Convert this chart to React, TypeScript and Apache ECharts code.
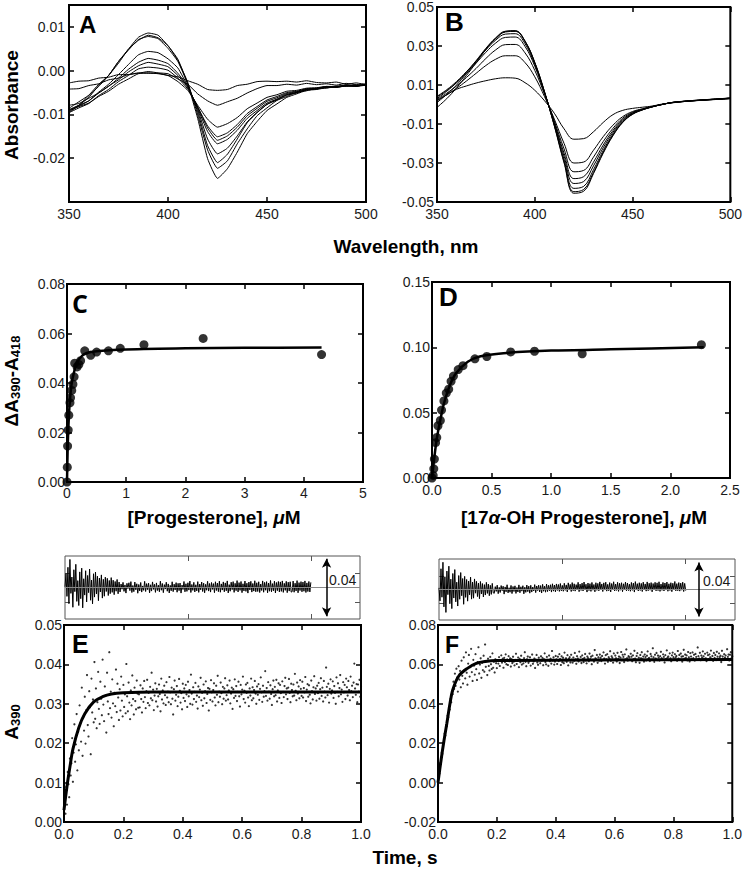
import React, { useEffect, useRef } from "react";
import * as echarts from "echarts";

// ---------- DATA ----------
const WAVELENGTHS = [350, 355, 360, 365, 370, 375, 380, 385, 390, 395, 400, 405, 410, 415, 420, 425, 430, 435, 440, 445, 450, 455, 460, 465, 470, 475, 480, 485, 490, 495, 500];

// Panel A difference spectra, milli-absorbance units
const SPEC_A1 = [-2.8, -2.4, -2.3, -1.7, -1.5, -0.9, -0.9, -0.5, -0.6, -0.6, -1.1, -1.4, -2.3, -3.1, -4.3, -4.5, -4.3, -3.4, -3.1, -2.5, -2.4, -2.5, -2.4, -2.6, -2.3, -2.7, -2.8, -2.6, -3.1, -2.8, -3.2];
const SPEC_A2 = [-4.2, -4.1, -3.4, -3.0, -2.1, -1.7, -0.9, -0.6, -0.2, -0.5, -0.7, -1.9, -3.1, -5.3, -6.9, -7.9, -7.1, -6.3, -5.1, -4.1, -3.4, -3.4, -3.1, -3.3, -2.9, -3.2, -3.0, -3.3, -2.9, -3.2, -3.0];
const SPEC_A3 = [-9.1, -8.2, -7.4, -5.9, -4.7, -3.1, -1.9, -0.7, -0.5, -0.7, -1.1, -2.5, -4.5, -7.9, -11.1, -12.9, -12.1, -10.7, -8.7, -7.4, -6.1, -5.5, -4.7, -4.5, -4.0, -3.9, -3.6, -3.6, -3.3, -3.5, -3.2];
const SPEC_A4 = [-9.6, -8.5, -7.5, -5.7, -4.3, -2.5, -1.1, 0.4, 0.8, 0.6, 0.1, -1.7, -4.2, -8.3, -12.6, -15.1, -14.2, -12.3, -9.8, -8.2, -6.7, -5.9, -5.0, -4.7, -4.1, -4.0, -3.6, -3.7, -3.3, -3.5, -3.2];
const SPEC_A5 = [-7.9, -7.5, -6.3, -5.1, -3.5, -2.1, -0.3, 1.1, 1.9, 1.5, 0.9, -1.1, -3.9, -8.3, -13.1, -15.9, -14.9, -12.9, -10.3, -8.6, -7.0, -6.2, -5.2, -4.8, -4.2, -4.1, -3.7, -3.7, -3.4, -3.5, -3.2];
const SPEC_A6 = [-8.9, -7.9, -6.9, -5.1, -3.6, -1.7, 0.3, 1.9, 2.8, 2.4, 1.6, -0.6, -3.7, -8.6, -13.9, -16.7, -15.7, -13.6, -10.9, -9.1, -7.4, -6.5, -5.4, -5.0, -4.3, -4.2, -3.8, -3.8, -3.5, -3.6, -3.3];
const SPEC_A7 = [-9.3, -8.1, -6.9, -4.9, -3.1, -0.9, 1.4, 3.6, 4.4, 4.1, 2.7, 0.6, -3.6, -8.9, -15.6, -19.0, -17.7, -14.9, -11.7, -9.5, -7.7, -6.7, -5.6, -5.1, -4.4, -4.2, -3.8, -3.8, -3.4, -3.5, -3.2];
const SPEC_A8 = [-8.6, -7.1, -5.6, -3.1, -1.1, 2.1, 4.7, 7.1, 7.8, 7.3, 5.1, 2.1, -3.1, -9.4, -17.1, -21.0, -19.1, -15.6, -11.9, -9.6, -7.7, -6.6, -5.5, -5.0, -4.3, -4.1, -3.7, -3.7, -3.3, -3.4, -3.1];
const SPEC_A9 = [-9.0, -7.9, -5.7, -3.6, -1.1, 1.7, 4.9, 6.9, 8.1, 7.5, 5.7, 2.3, -2.7, -10.1, -18.1, -22.3, -20.6, -16.7, -13.3, -10.3, -8.5, -6.8, -5.9, -4.9, -4.6, -4.0, -4.0, -3.5, -3.6, -3.3, -3.3];
const SPEC_A10 = [-9.6, -7.9, -6.1, -3.4, -1.1, 2.1, 4.9, 7.6, 8.6, 8.1, 5.7, 2.6, -3.1, -10.9, -20.1, -24.6, -22.4, -18.6, -14.4, -11.6, -9.1, -7.6, -6.1, -5.3, -4.5, -4.3, -3.9, -3.8, -3.5, -3.5, -3.2];

// Panel B difference spectra, milli-absorbance units
const SPEC_B1 = [1.9, 5.0, 7.8, 9.5, 11.0, 12.2, 13.2, 13.7, 13.5, 11.2, 7.3, 1.9, -4.5, -12.5, -17.8, -17.5, -14.0, -9.2, -5.2, -3.0, -2.0, -1.4, -0.8, 0.2, 0.8, 1.4, 1.8, 2.2, 2.5, 2.7, 3.0];
const SPEC_B2 = [2.0, 5.0, 8.3, 12.0, 16.0, 20.0, 23.2, 25.0, 25.0, 21.5, 14.2, 4.0, -7.5, -20.0, -30.0, -29.5, -23.5, -16.5, -10.6, -6.2, -3.6, -2.2, -1.0, 0.0, 0.9, 1.4, 1.8, 2.1, 2.4, 2.7, 3.0];
const SPEC_B3 = [2.5, 5.8, 9.5, 13.8, 18.5, 23.6, 28.0, 30.7, 30.8, 26.5, 17.5, 5.2, -8.5, -22.8, -34.5, -33.8, -27.0, -19.0, -12.2, -7.0, -4.0, -2.4, -1.1, 0.0, 0.9, 1.4, 1.8, 2.2, 2.5, 2.8, 3.1];
const SPEC_B4 = [3.8, 7.2, 11.2, 16.0, 21.2, 26.8, 31.5, 34.4, 34.6, 29.8, 19.6, 5.8, -9.3, -25.0, -38.0, -37.0, -29.6, -20.8, -13.3, -7.7, -4.3, -2.5, -1.1, 0.0, 1.0, 1.5, 1.9, 2.2, 2.6, 2.9, 3.3];
const SPEC_B5 = [4.2, 7.6, 11.8, 16.8, 22.2, 28.0, 33.0, 36.1, 36.3, 31.2, 20.5, 6.1, -9.8, -26.6, -40.5, -39.5, -31.5, -22.2, -14.2, -8.2, -4.5, -2.6, -1.2, 0.0, 1.0, 1.5, 2.0, 2.3, 2.6, 2.9, 3.3];
const SPEC_B6 = [1.0, 5.2, 10.0, 15.8, 22.0, 28.5, 33.8, 37.2, 37.5, 32.2, 21.2, 6.2, -10.5, -28.3, -43.0, -42.0, -33.5, -23.6, -15.1, -8.7, -4.8, -2.7, -1.2, 0.0, 1.0, 1.6, 2.0, 2.3, 2.7, 3.0, 3.4];
const SPEC_B7 = [-1.5, 3.0, 8.5, 14.8, 21.4, 28.2, 33.8, 37.4, 37.8, 32.6, 21.6, 6.4, -10.8, -29.4, -44.7, -43.6, -34.8, -24.5, -15.7, -9.0, -5.0, -2.8, -1.3, 0.0, 1.0, 1.5, 1.9, 2.3, 2.6, 2.9, 3.2];
const SPEC_B8 = [3.0, 6.8, 11.2, 16.5, 22.5, 28.8, 34.2, 37.6, 37.8, 32.5, 21.5, 6.5, -11.0, -30.0, -45.5, -44.5, -35.5, -25.0, -16.0, -9.2, -5.0, -2.8, -1.2, 0.0, 1.0, 1.5, 1.9, 2.2, 2.5, 2.8, 3.2];

// Panel C titration
const C_CONC = [0, 0.005, 0.01, 0.02, 0.03, 0.05, 0.06, 0.08, 0.1, 0.12, 0.13, 0.17, 0.2, 0.23, 0.3, 0.4, 0.5, 0.7, 0.9, 1.3, 2.3, 4.3];
const C_DELTA = [0, 0.006, 0.0145, 0.021, 0.027, 0.032, 0.034, 0.037, 0.0395, 0.0425, 0.048, 0.0465, 0.0475, 0.049, 0.053, 0.0512, 0.0525, 0.053, 0.054, 0.0555, 0.058, 0.0515];
const C_FIT_CONC = [0, 0.01, 0.02, 0.04, 0.06, 0.08, 0.1, 0.15, 0.2, 0.3, 0.5, 1, 2, 3, 4.3];
const C_FIT_DELTA = [0, 0.012, 0.02, 0.03, 0.036, 0.04, 0.0425, 0.047, 0.0495, 0.0518, 0.0528, 0.0535, 0.054, 0.0542, 0.0543];

// Panel D titration
const D_CONC = [0, 0.01, 0.015, 0.02, 0.03, 0.04, 0.05, 0.07, 0.08, 0.1, 0.12, 0.14, 0.16, 0.18, 0.22, 0.26, 0.36, 0.46, 0.66, 0.86, 1.26, 2.26];
const D_DELTA = [0, 0.002, 0.007, 0.0145, 0.027, 0.031, 0.04, 0.044, 0.052, 0.059, 0.065, 0.068, 0.074, 0.078, 0.083, 0.086, 0.0912, 0.093, 0.0965, 0.097, 0.095, 0.102];
const D_FIT_CONC = [0, 0.02, 0.04, 0.06, 0.08, 0.1, 0.15, 0.2, 0.3, 0.4, 0.6, 1.0, 1.5, 2.28];
const D_FIT_DELTA = [0, 0.016, 0.03, 0.04, 0.049, 0.057, 0.071, 0.08, 0.089, 0.093, 0.0955, 0.0975, 0.0985, 0.1];

// Panel E stopped-flow trace (A390 in milli-absorbance, one point every 2.5 ms)
const E_DT = 0.0025;
const E_TRACE = [
  3.2, 5.8, 2.1, 8.9, 4.4, 12.7, 9.6, 6.3, 16.1, 11.8, 14.9, 21.3, 10.2, 17.6, 24.8, 15.3, 19.7, 27.4, 13.1, 22.9, 18.2, 29.6, 25.1, 20.4, 34.1, 16.8, 26.7, 23.2, 31.8, 19.9, 28.4, 37.3, 24.6, 21.7, 33.2, 29.1, 17.2, 36.4, 27.8, 31.1, 25.3,
  40.6, 26.2, 33.9, 23.8, 30.4, 38.1, 28.7, 24.9, 35.6, 31.3, 27.1, 41.2, 29.8, 25.6, 34.4, 32.1, 22.7, 37.9, 30.6, 27.4,
  43.1, 28.9, 33.1, 26.5, 36.2, 30.1, 24.3, 32.8, 29.4, 38.7, 27.9, 35.1, 31.6, 25.9, 33.7, 28.3, 36.9, 30.8, 26.8, 34.8,
  29.2, 32.4, 27.6, 40.1, 31.9, 28.1, 35.4, 30.3, 26.1, 33.4, 29.6, 37.2, 31.2, 27.3, 34.1, 30.7, 28.6, 35.9, 32.6, 29.0,
  32.4, 29.1, 34.7, 31.2, 27.8, 33.9, 30.5, 35.8, 31.7, 28.9, 33.2, 36.1, 30.2, 32.8, 29.6, 34.3, 31.4, 37.9, 30.9, 33.6,
  28.4, 32.1, 35.2, 30.6, 33.8, 29.3, 31.9, 34.9, 32.5, 28.1, 36.4, 31.1, 33.4, 30.1, 34.6, 32.2, 29.7, 35.5, 31.6, 33.1,
  30.4, 36.8, 32.9, 29.9, 34.1, 31.3, 27.3, 33.7, 35.9, 30.8, 32.3, 34.5, 29.4, 31.8, 36.3, 33.3, 30.3, 32.7, 28.6, 35.1,
  31.5, 33.9, 30.7, 34.8, 32.4, 29.2, 35.6, 31.9, 33.5, 30.0, 37.4, 32.6, 29.8, 34.2, 31.2, 33.0, 35.3, 30.5, 32.1, 28.8,
  34.4, 31.7, 33.6, 36.6, 30.9, 32.8, 29.5, 34.9, 31.4, 33.2, 35.7, 30.2, 32.5, 34.0, 28.3, 33.8, 31.0, 36.0, 32.9, 30.6,
  33.5, 35.2, 31.6, 29.6, 34.6, 32.3, 37.1, 30.4, 33.1, 31.8, 35.4, 32.7, 29.9, 34.3, 31.3, 33.9, 36.5, 30.8, 32.2, 34.7,
  31.1, 33.4, 35.9, 30.1, 32.6, 34.1, 28.7, 33.7, 31.5, 36.2, 32.0, 34.5, 30.7, 33.0, 35.6, 31.9, 29.3, 34.8, 32.4, 33.6,
  36.9, 31.2, 33.3, 30.3, 34.9, 32.8, 35.3, 31.6, 29.4, 33.9, 32.1, 36.4, 30.9, 34.2, 31.4, 33.5, 35.8, 32.6, 30.0, 34.4,
  32.3, 35.0, 31.0, 33.8, 36.7, 32.9, 30.5, 34.6, 31.8, 33.2, 38.3, 32.0, 34.0, 30.8, 35.5, 33.1, 31.3, 34.7, 32.5, 29.7,
  33.7, 35.9, 31.9, 34.3, 32.2, 36.1, 30.6, 33.4, 35.2, 31.5, 34.8, 32.7, 30.2, 35.7, 33.0, 31.7, 34.5, 36.6, 32.4, 33.9,
  31.2, 34.1, 36.3, 32.8, 30.4, 35.1, 33.5, 31.9, 34.9, 32.1, 37.6, 33.3, 30.9, 35.4, 32.6, 34.4, 31.4, 36.0, 33.8, 32.0,
  35.6, 31.6, 34.0, 32.9, 36.8, 30.7, 33.6, 35.0, 31.8, 34.7, 32.3, 30.1, 35.9, 33.2, 31.1, 34.2, 37.0, 32.5, 33.9, 30.8,
  34.6, 32.7, 35.3, 31.3, 33.7, 36.5, 32.0, 34.1, 30.6, 35.8, 33.1, 31.6, 39.2, 34.3, 32.2, 35.1, 30.3, 33.8, 36.2, 32.6,
  33.4, 35.7, 31.5, 34.5, 32.8, 30.0, 36.7, 33.0, 35.2, 31.9, 34.0, 37.3, 32.4, 33.6, 30.5, 35.5, 32.9, 34.8, 31.2, 36.4,
  34.2, 32.1, 35.8, 33.5, 30.9, 36.9, 33.2, 34.6, 31.7, 35.4, 40.2, 33.9, 32.3, 35.0, 30.4, 34.9, 33.1, 36.1, 31.8, 34.4,
];
const E_FIT_T = [0, 0.01, 0.02, 0.03, 0.05, 0.07, 0.1, 0.13, 0.16, 0.2, 0.3, 1.0];
const E_FIT_A = [0.003, 0.009, 0.014, 0.0185, 0.024, 0.0275, 0.0305, 0.0318, 0.0325, 0.0328, 0.033, 0.033];

// Panel F stopped-flow trace (A390 in milli-absorbance, one point every 2.5 ms)
const F_DT = 0.0025;
const F_TRACE = [
  -1.8, 3.9, 4.6, 9.8, 10.2, 15.1, 14.6, 19.9, 20.3, 24.8, 23.9, 29.1, 28.6, 33.9, 33.2, 38.4, 37.1, 42.5, 40.8, 46.3, 44.9,
  51.2, 47.6, 55.3, 49.1, 57.8, 53.4, 46.2, 59.1, 52.3, 56.7, 48.4, 61.9, 54.2, 50.3, 63.6, 57.2, 52.9, 66.1, 55.8, 49.7,
  60.4, 64.8, 53.8, 58.6, 67.9, 56.1, 51.6, 62.3, 59.4, 54.8, 65.2, 57.6, 52.1, 61.2, 68.7, 55.4, 59.9, 63.1, 53.2, 60.8,
  57.1, 64.4, 56.3, 70.1, 58.8, 61.6, 54.6, 62.9, 59.2, 56.9, 63.8, 60.1, 57.7, 65.6, 58.3, 61.3, 55.9, 62.6, 60.6, 58.1,
  62.1, 60.4, 63.7, 59.2, 61.8, 64.6, 60.9, 62.9, 58.3, 63.3, 61.2, 65.1, 60.1, 62.5, 59.7, 64.2, 61.6, 63.1, 58.9, 62.7,
  60.7, 63.9, 61.4, 59.5, 62.3, 65.4, 60.2, 61.9, 63.5, 58.6, 62.8, 61.1, 64.4, 59.9, 62.0, 60.5, 63.2, 66.2, 61.3, 59.1,
  62.6, 64.0, 60.8, 61.7, 63.6, 59.4, 62.2, 65.0, 60.3, 61.5, 63.0, 58.2, 62.4, 64.8, 61.0, 59.8, 63.4, 62.1, 60.6, 64.1,
  61.9, 63.3, 59.6, 62.7, 65.6, 61.2, 60.0, 63.8, 62.3, 59.3, 64.5, 61.6, 62.9, 60.4, 66.8, 62.0, 63.6, 59.9, 61.4, 64.3,
  62.5, 60.2, 63.9, 61.7, 65.2, 62.8, 59.7, 64.1, 61.1, 63.4, 60.6, 66.0, 62.2, 63.1, 61.3, 64.7, 59.5, 62.9, 63.7, 61.0,
  64.9, 62.4, 60.9, 63.5, 61.8, 65.8, 62.6, 60.3, 64.2, 63.0, 61.5, 66.5, 62.1, 63.8, 60.7, 64.6, 62.8, 61.2, 63.3, 65.3,
  62.0, 60.5, 64.0, 63.2, 61.6, 65.5, 62.7, 63.9, 60.1, 64.4, 62.3, 61.4, 67.3, 63.1, 62.5, 64.8, 60.8, 63.6, 61.9, 65.0,
  63.4, 61.7, 64.3, 62.2, 66.1, 63.0, 60.4, 64.7, 62.6, 65.2, 61.3, 63.7, 62.9, 66.7, 61.8, 64.1, 63.3, 60.9, 65.6, 62.4,
  64.5, 63.1, 61.5, 65.9, 62.8, 64.0, 60.7, 63.5, 66.3, 62.1, 64.9, 63.8, 61.2, 65.1, 62.5, 67.6, 63.2, 61.9, 64.2, 63.6,
  62.3, 65.4, 63.9, 61.6, 64.6, 62.7, 66.9, 63.0, 61.1, 64.3, 65.7, 62.2, 63.4, 60.8, 64.8, 63.1, 66.2, 62.6, 64.0, 61.4,
  65.0, 63.7, 62.0, 64.4, 66.6, 62.9, 63.3, 61.7, 65.3, 64.1, 62.4, 68.2, 63.6, 61.3, 64.9, 63.0, 65.8, 62.1, 64.5, 63.5,
  61.9, 64.2, 66.4, 63.2, 62.5, 65.1, 63.8, 61.0, 64.7, 62.8, 67.1, 63.4, 64.0, 62.2, 65.6, 63.1, 61.6, 64.6, 66.0, 63.7,
  62.6, 65.2, 63.5, 64.3, 61.8, 66.8, 63.0, 64.8, 62.3, 65.5, 63.9, 61.4, 64.1, 67.4, 62.9, 65.0, 63.3, 64.6, 62.0, 66.3,
  63.6, 61.5, 65.7, 64.0, 62.7, 66.1, 63.2, 64.9, 61.9, 65.3, 63.8, 62.4, 68.6, 64.2, 63.0, 65.9, 62.1, 64.5, 63.4, 66.6,
  64.1, 62.8, 65.4, 63.1, 61.7, 66.0, 64.7, 62.5, 65.1, 63.6, 67.0, 62.9, 64.3, 61.8, 65.8, 63.3, 64.8, 62.2, 66.4, 63.9,
  62.6, 65.6, 63.7, 64.4, 61.2, 66.9, 64.0, 62.7, 65.2, 63.5, 64.6, 62.3, 67.7, 63.8, 65.0, 62.0, 64.9, 66.2, 63.1, 64.2,
];
const F_FIT_T = [0, 0.01, 0.02, 0.03, 0.04, 0.05, 0.07, 0.1, 0.13, 0.16, 0.2, 1.0];
const F_FIT_A = [0, 0.011, 0.021, 0.03, 0.0395, 0.047, 0.054, 0.058, 0.0605, 0.0615, 0.062, 0.0625];

// Fit residuals (milli-absorbance, one point every 4 ms)
const RES_DT = 0.004;
const E_RESID = [
  0.5, 9.8, -6.2, 14.1, -11.3, 19.6, -4.1, 7.3, -13.8, 12.4, -2.9, 16.2, -9.7, 4.8, -12.6, 10.9, -7.8, 13.5, -14.2, 6.1,
  -5.3, 11.7, -10.1, 8.4, -3.6, 12.9, -8.9, 5.2, -11.4, 9.6, -6.7, 10.8, -4.5, 7.9, -9.2, 6.6, -3.1, 8.8, -7.4, 5.7,
  -6.1, 7.2, -2.8, 6.4, -5.6, 4.9, -4.3, 6.9, -3.4, 5.1, -5.0, 4.2, -2.6, 5.6, -4.4, 3.8,
  -3.1, 2.4, -1.2, 3.6, -2.7, 1.8, -3.9, 2.9, -0.8, 3.3, -2.2, 4.1, -3.5, 1.4, -2.9, 3.8, -1.6, 2.6, -4.0, 2.1,
  -2.4, 3.5, -3.2, 1.1, -2.0, 4.3, -2.8, 2.7, -1.5, 3.0, -3.7, 1.9, -2.5, 3.9, -1.3, 2.2, -3.4, 3.2, -2.1, 1.6,
  -3.0, 4.4, -1.9, 2.8, -3.6, 2.0, -1.1, 3.7, -2.6, 2.5, -3.8, 1.5, -2.3, 4.0, -2.9, 2.3, -1.7, 3.4, -3.3, 2.9,
  -2.2, 3.1, -3.9, 1.7, -1.4, 4.2, -3.0, 2.6, -2.7, 3.3, -1.8, 4.5, -3.5, 2.1, -2.0, 3.6, -3.1, 1.9, -2.4, 4.1,
  -3.4, 2.4, -1.6, 3.8, -2.8, 3.0, -3.7, 2.2, -1.9, 4.3, -2.5, 2.8, -3.2, 3.5, -1.3, 2.7, -3.6, 4.0, -2.1, 3.1,
  -2.9, 4.4, -3.3, 2.5, -1.8, 3.9, -3.0, 3.2, -2.3, 4.6, -3.8, 2.0, -2.6, 3.7, -1.5, 4.1, -3.4, 2.9, -2.2, 4.8,
  -3.1, 3.4, -2.0, 4.2, -3.6, 2.6, -2.4, 4.5, -2.7, 3.0, -3.9, 3.8, -1.7, 4.3, -3.2, 2.8, -2.5, 4.7, -3.0, 3.3,
  -2.8, 4.0, -3.5, 2.4, -2.1, 4.6, -3.3, 3.6, -1.9, 4.1, -3.7, 3.1, -2.6, 4.9, -3.0, 2.7, -2.3, 4.4, -3.8, 3.5,
  -2.2, 4.2, -3.1, 3.9, -2.7, 4.6, -3.4, 2.9, -2.0, 4.3, -3.6, 3.7, -2.5, 4.0, -3.2,
  -2.9, 4.5, -3.3, 3.0, -2.4, 4.8, -3.7, 3.4, -2.1, 4.1, -3.0, 3.8, -2.6, 4.6, -3.5, 3.2, -2.8, 4.2, -3.1, 3.6,
];
const F_RESID = [
  1.2, -8.4, 15.3, -5.7, 20.1, -12.8, 9.4, -16.9, 13.6, -3.8, 17.2, -10.5, 7.6, -14.1, 11.8, -6.3, 14.7, -9.1, 5.4, -12.2,
  10.3, -7.2, 12.5, -4.6, 8.1, -10.9, 9.7, -5.8, 7.4, -8.6, 6.2, -3.9, 9.1, -7.1, 5.5, -6.4, 7.8, -2.7, 6.0, -5.2,
  4.7, -6.8, 5.9, -3.3, 4.4, -5.5, 3.6, -4.1, 5.3, -2.9, 4.0, -4.6, 3.1, -3.6, 4.5, -2.5,
  -2.8, 2.1, -1.4, 3.2, -3.1, 1.6, -2.2, 2.9, -0.9, 2.4, -3.4, 1.9, -1.7, 3.5, -2.5, 1.3, -2.0, 3.0, -3.0, 2.2,
  -1.5, 2.7, -2.9, 1.5, -1.8, 3.4, -2.4, 2.0, -1.2, 2.8, -3.2, 1.7, -2.1, 3.3, -1.6, 2.5, -2.7, 3.1, -1.9, 1.8,
  -1.1, 3.6, -2.3, 2.6, -0.8, 3.2, -1.8, 2.9, -2.6, 3.8, -1.3, 2.4, -2.0, 4.0, -1.5, 3.1, -0.9, 3.5, -1.9, 4.2,
  -1.2, 3.3, -1.7, 4.1, -0.7, 3.7, -1.4, 4.4, -1.0, 3.0,
  -1.3, 4.6, -0.6, 3.4, -1.8, 4.9, -0.4, 3.8, -1.5, 5.1, -0.9, 4.2, -1.2, 3.6, -0.2, 5.3, -1.6, 4.0, -0.7, 4.7,
  -1.1, 5.5, -0.3, 3.9, -1.9, 4.8, -0.8, 4.3, -1.4, 5.2, -0.5, 3.7, -1.7, 5.0, -0.6, 4.5, -1.0, 5.6, -0.1, 4.1,
  -1.5, 4.9, -0.4, 5.4, -1.2, 3.8, -0.9, 5.1, -1.8, 4.4, -0.2, 5.7, -1.1, 4.0, -0.7, 5.3, -1.4, 4.6, -0.5, 5.0,
  -1.6, 4.2, -0.3, 5.5, -1.0, 4.8, -0.8, 3.9, -1.3, 5.2, -0.6, 4.7, -1.9, 5.8, -0.4, 4.3, -1.1, 5.0, -0.7, 4.5,
  -1.5, 5.4, -0.2, 4.1, -1.2, 5.6, -0.9, 4.6, -0.5, 5.1, -1.7, 4.4, -0.3, 5.3, -1.0, 4.9, -0.8, 5.7, -1.4, 4.0,
  -0.6, 5.2, -1.1, 4.8, -0.4, 5.5, -1.3, 4.2, -0.7, 5.0, -1.6, 4.6, -0.2, 5.9, -1.0, 4.3, -0.9, 5.1, -1.2, 4.7,
  -0.5, 5.4, -1.5, 4.5, -0.8,
];
const RESID_SCALE_BAR = 0.04;

// ---------- CHART ----------
const FONT = "'Liberation Sans', Arial, Helvetica, sans-serif";
const LBL_COLOR = "#1a1a1a";

type AxisSpec = {
  min: number;
  max: number;
  interval?: number;
  ticks?: number[];
  labels?: number[] | null;
  fmt?: (v: number) => string;
  margin?: number;
};

const fmt = (d: number) => (v: number) => (Math.abs(v) < 1e-9 ? 0 : v).toFixed(d);

const GRIDS = [
  { left: 69, top: 5, width: 297, height: 197, border: 2, color: "#000" }, // A
  { left: 437, top: 5, width: 296, height: 197, border: 2, color: "#000" }, // B
  { left: 67, top: 284, width: 296, height: 198, border: 2, color: "#000" }, // C
  { left: 432, top: 282, width: 298, height: 196, border: 2, color: "#000" }, // D
  { left: 65, top: 556, width: 295, height: 63, border: 1, color: "#555" }, // resid E
  { left: 64, top: 625, width: 297, height: 197, border: 2, color: "#000" }, // E
  { left: 439, top: 559, width: 296, height: 61, border: 1, color: "#555" }, // resid F
  { left: 438, top: 625, width: 296, height: 197, border: 2, color: "#000" }, // F
];

function makeAxis(gi: number, s: AxisSpec, pos: string, showLabels: boolean, tickColor: string, tickW: number) {
  const axis: any = {
    type: "value",
    gridIndex: gi,
    position: pos,
    min: s.min,
    max: s.max,
    axisLine: { show: false, onZero: false },
    splitLine: { show: false },
    axisTick: {
      show: true,
      inside: true,
      length: 5,
      lineStyle: { color: tickColor, width: tickW },
    },
    axisLabel: {
      show: showLabels && s.labels !== null,
      margin: s.margin ?? 4,
      fontSize: 14,
      fontFamily: FONT,
      color: LBL_COLOR,
      formatter: s.fmt,
      hideOverlap: false,
    },
  };
  if (s.interval !== undefined) axis.interval = s.interval;
  if (s.ticks) axis.axisTick.customValues = s.ticks;
  if (s.labels) axis.axisLabel.customValues = s.labels;
  return axis;
}

function buildOption() {
  const xAxes: any[] = [];
  const yAxes: any[] = [];
  const specs: { x: AxisSpec; y: AxisSpec }[] = [
    { x: { min: 350, max: 500, interval: 50, fmt: fmt(0), margin: 5 }, y: { min: -0.03, max: 0.015, ticks: [-0.02, -0.01, 0, 0.01], labels: [-0.02, -0.01, 0, 0.01], fmt: fmt(2) } },
    { x: { min: 350, max: 500, interval: 50, fmt: fmt(0), margin: 5 }, y: { min: -0.05, max: 0.05, interval: 0.02, fmt: fmt(2), margin: 3 } },
    { x: { min: 0, max: 5, interval: 1, fmt: fmt(0), margin: 4 }, y: { min: 0, max: 0.08, interval: 0.02, fmt: fmt(2), margin: 2 } },
    { x: { min: 0, max: 2.5, interval: 0.5, fmt: fmt(1), margin: 5 }, y: { min: 0, max: 0.15, interval: 0.05, fmt: fmt(2), margin: 2 } },
    { x: { min: 0, max: 1.2, ticks: [0.5, 1.0], labels: null }, y: { min: -0.022, max: 0.022, ticks: [-0.01, 0.01], labels: null } },
    { x: { min: 0, max: 1, interval: 0.2, fmt: fmt(1), margin: 5 }, y: { min: 0, max: 0.05, interval: 0.01, fmt: fmt(2), margin: 2 } },
    { x: { min: 0, max: 1.2, ticks: [0.5, 1.0], labels: null }, y: { min: -0.0225, max: 0.0225, ticks: [-0.01, 0.01], labels: null } },
    { x: { min: 0, max: 1, interval: 0.2, fmt: fmt(1), margin: 5 }, y: { min: -0.02, max: 0.08, interval: 0.02, fmt: fmt(2), margin: 2 } },
  ];
  specs.forEach((s, gi) => {
    const g = GRIDS[gi];
    const tw = g.border === 2 ? 1.5 : 1;
    xAxes.push(makeAxis(gi, s.x, "bottom", true, g.color, tw));
    xAxes.push(makeAxis(gi, s.x, "top", false, g.color, tw));
    yAxes.push(makeAxis(gi, s.y, "left", true, g.color, tw));
    yAxes.push(makeAxis(gi, s.y, "right", false, g.color, tw));
  });

  const series: any[] = [];
  const ax = (gi: number) => ({ xAxisIndex: gi * 2, yAxisIndex: gi * 2 });

  const lineS = (gi: number, data: number[][], width: number, smooth: number | boolean = false) => ({
    type: "line",
    ...ax(gi),
    data,
    symbol: "none",
    smooth,
    lineStyle: { color: "#000", width },
    silent: true,
  });

  [SPEC_A1, SPEC_A2, SPEC_A3, SPEC_A4, SPEC_A5, SPEC_A6, SPEC_A7, SPEC_A8, SPEC_A9, SPEC_A10].forEach((sp) => {
    series.push(lineS(0, WAVELENGTHS.map((w, i) => [w, sp[i] / 1000]), 1, 0.15));
  });
  [SPEC_B1, SPEC_B2, SPEC_B3, SPEC_B4, SPEC_B5, SPEC_B6, SPEC_B7, SPEC_B8].forEach((sp) => {
    series.push(lineS(1, WAVELENGTHS.map((w, i) => [w, sp[i] / 1000]), 1, 0.4));
  });

  // C
  series.push(lineS(2, C_FIT_CONC.map((c, i) => [c, C_FIT_DELTA[i]]), 2.5, 0.3));
  series.push({ type: "scatter", ...ax(2), data: C_CONC.map((c, i) => [c, C_DELTA[i]]), symbol: "circle", symbolSize: 9, itemStyle: { color: "#000" }, silent: true });
  // D
  series.push(lineS(3, D_FIT_CONC.map((c, i) => [c, D_FIT_DELTA[i]]), 2.5, 0.3));
  series.push({ type: "scatter", ...ax(3), data: D_CONC.map((c, i) => [c, D_DELTA[i]]), symbol: "circle", symbolSize: 9, itemStyle: { color: "#000" }, silent: true });

  const zeroLine = {
    silent: true,
    symbol: "none",
    label: { show: false },
    lineStyle: { color: "#888", width: 1, type: "solid" },
    data: [{ yAxis: 0 }],
  };
  const scaleBar = (x: number) => ({
    silent: true,
    symbol: ["arrow", "arrow"],
    symbolSize: [7, 9],
    label: { show: false },
    lineStyle: { color: "#000", width: 1.5, type: "solid" },
    data: [[{ coord: [x, RESID_SCALE_BAR / 2] }, { coord: [x, -RESID_SCALE_BAR / 2] }]],
  });

  // residual E
  series.push({ ...lineS(4, E_RESID.map((r, i) => [i * RES_DT, r / 1000]), 1), markLine: zeroLine });
  series.push({ type: "line", ...ax(4), data: [], silent: true, markLine: scaleBar(1.064) });
  // E
  series.push({ type: "scatter", ...ax(5), data: E_TRACE.map((v, i) => [i * E_DT, v / 1000]), symbol: "circle", symbolSize: 2.2, itemStyle: { color: "#000" }, silent: true });
  series.push(lineS(5, E_FIT_T.map((t, i) => [t, E_FIT_A[i]]), 3, 0.35));

  // residual F
  series.push({ ...lineS(6, F_RESID.map((r, i) => [i * RES_DT, r / 1000]), 1), markLine: zeroLine });
  series.push({ type: "line", ...ax(6), data: [], silent: true, markLine: scaleBar(1.054) });
  // F
  series.push({ type: "scatter", ...ax(7), data: F_TRACE.map((v, i) => [i * F_DT, v / 1000]), symbol: "circle", symbolSize: 2.2, itemStyle: { color: "#000" }, silent: true });
  series.push(lineS(7, F_FIT_T.map((t, i) => [t, F_FIT_A[i]]), 3, 0.35));

  const title = (text: string, x: number, y: number, rot = 0, rich?: any) => ({
    type: "text",
    x,
    y,
    rotation: rot,
    silent: true,
    style: {
      text,
      fontSize: 19,
      fontWeight: "bold",
      fontFamily: FONT,
      fill: "#000",
      align: "center",
      verticalAlign: "middle",
      rich,
    },
  });
  const sub = {
    a: { fontSize: 19, fontWeight: "bold", fontFamily: FONT, fill: "#000" },
    s: { fontSize: 13, fontWeight: "bold", fontFamily: FONT, fill: "#000", padding: [9, 0, 0, 0] },
    i: { fontSize: 19, fontWeight: "bold", fontStyle: "italic", fontFamily: FONT, fill: "#000" },
  };
  const letter = (t: string, x: number, y: number, size: number, family = FONT) => ({
    type: "text",
    x,
    y,
    silent: true,
    style: { text: t, fontSize: size, fontWeight: "bold", fontFamily: family, fill: "#000", verticalAlign: "top", align: "left" },
  });

  const graphic = [
    title("Absorbance", 11, 105, Math.PI / 2),
    title("{a|ΔA}{s|390}{a|-A}{s|418}", 11, 381, Math.PI / 2, sub),
    title("{a|A}{s|390}", 11, 722, Math.PI / 2, sub),
    title("Wavelength, nm", 406, 246),
    title("Time, s", 405, 857),
    title("{a|[Progesterone], }{i|μ}{a|M}", 214, 517, 0, sub),
    title("{a|[17}{i|α}{a|-OH Progesterone], }{i|μ}{a|M}", 584, 517, 0, sub),
    letter("A", 79, 12, 24),
    letter("B", 445, 9, 26),
    letter("C", 72, 290, 25, "'Open Sans', " + FONT),
    letter("D", 439, 284, 26),
    letter("E", 72, 631, 25),
    letter("F", 445, 633, 23),
    { type: "text", x: 329, y: 580, silent: true, style: { text: "0.04", fontSize: 14, fontFamily: FONT, fill: "#1a1a1a", verticalAlign: "middle" } },
    { type: "text", x: 703, y: 581, silent: true, style: { text: "0.04", fontSize: 14, fontFamily: FONT, fill: "#1a1a1a", verticalAlign: "middle" } },
  ];

  return {
    animation: false,
    backgroundColor: "#fff",
    grid: GRIDS.map((g) => ({
      left: g.left,
      top: g.top,
      width: g.width,
      height: g.height,
      show: true,
      borderColor: g.color,
      borderWidth: g.border,
      backgroundColor: "transparent",
      containLabel: false,
    })),
    xAxis: xAxes,
    yAxis: yAxes,
    series,
    graphic,
  };
}

export default function App() {
  const ref = useRef<HTMLDivElement>(null);
  useEffect(() => {
    if (!ref.current) return;
    const chart = echarts.init(ref.current, undefined, { renderer: "svg" });
    chart.setOption(buildOption() as any);
    return () => chart.dispose();
  }, []);
  return (
    <div
      ref={ref}
      style={{ position: "absolute", left: 0, top: 0, width: 745, height: 872, background: "#fff" }}
    />
  );
}
